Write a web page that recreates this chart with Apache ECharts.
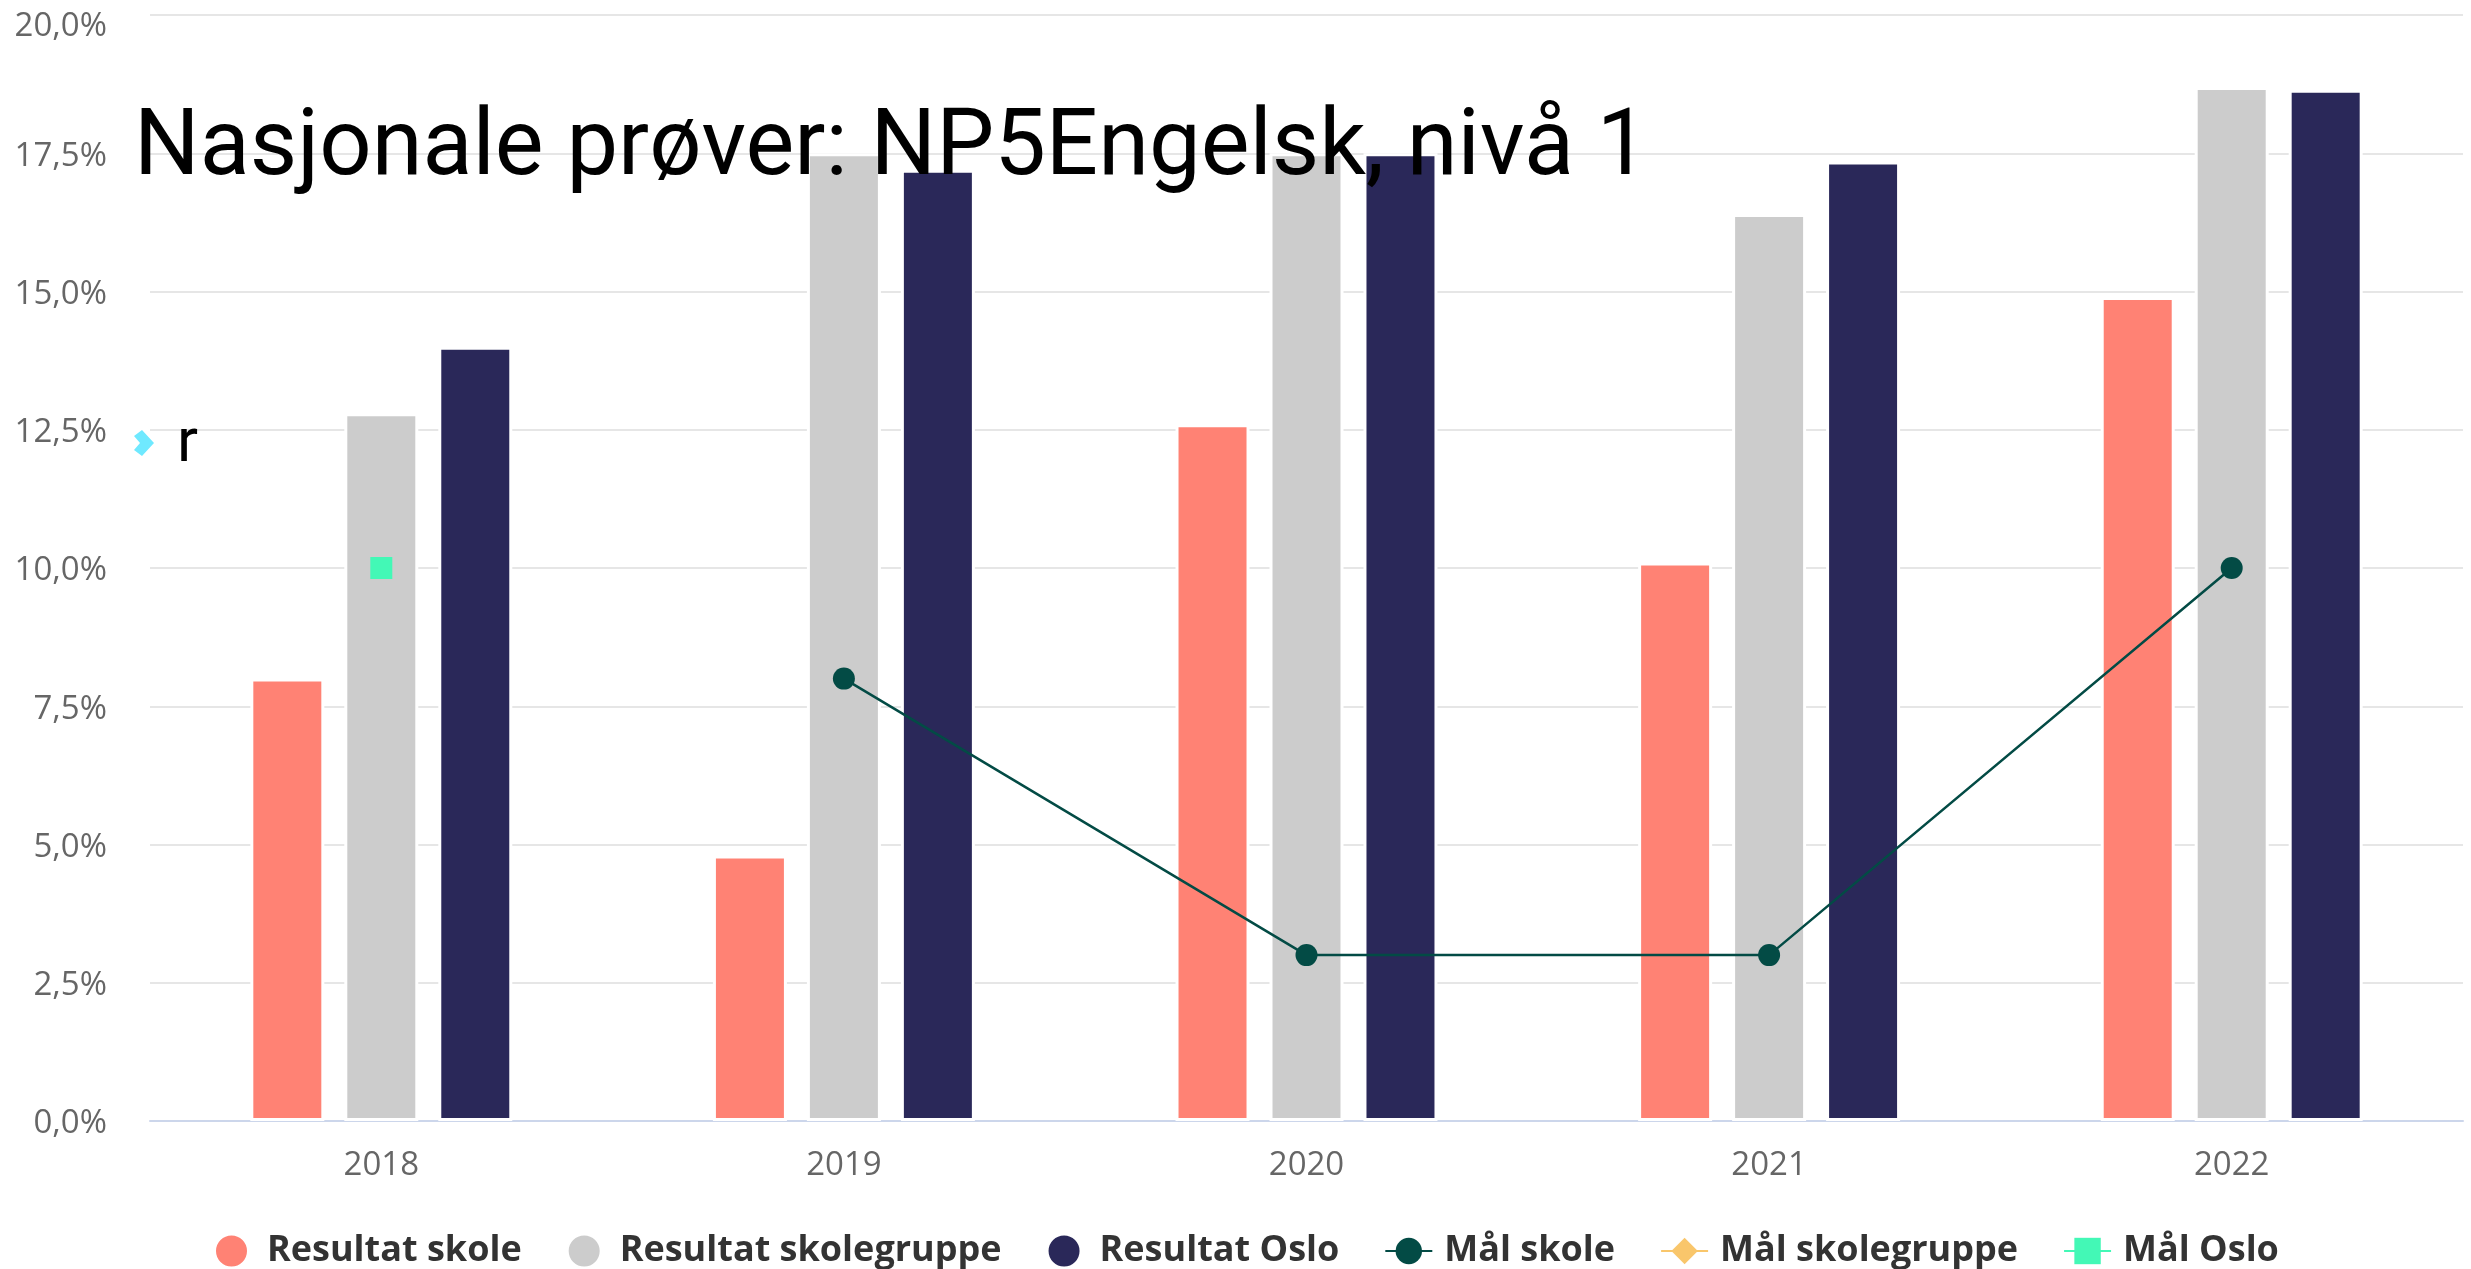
<!DOCTYPE html>
<html>
<head>
<meta charset="utf-8">
<title>Nasjonale prøver</title>
<script src="https://cdn.jsdelivr.net/npm/echarts@6/dist/echarts.min.js"></script>
<style>
    html, body { margin: 0; padding: 0; background: #fff; }
    #container { width: 2471px; height: 1269px; }
</style>
</head>
<body>
<div id="container"></div>
<script>
// data
var years = ['2018', '2019', '2020', '2021', '2022'];
var resultatSkole = [8.0, 4.8, 12.6, 10.1, 14.9];
var resultatSkolegruppe = [12.8, 17.5, 17.5, 16.4, 18.7];
var resultatOslo = [14.0, 17.2, 17.5, 17.35, 18.65];
var malSkole = [null, 8.0, 3.0, 3.0, 10.0];
var malSkolegruppe = [null, null, null, null, null];
var malOslo = [10.0, null, null, null, null];
var yTicks = [0, 2.5, 5, 7.5, 10, 12.5, 15, 17.5, 20];

var myChart = echarts.init(document.getElementById('container'));

// bar with white border like the original
function barSeries(name, data, color) {
    return {
        name: name,
        type: 'bar',
        data: data,
        barWidth: 74,
        barGap: '27%',
        itemStyle: { color: color, borderColor: '#fff', borderWidth: 3 }
    };
}

function lineSeries(name, data, color, symbol, size) {
    return {
        name: name,
        type: 'line',
        data: data,
        symbol: symbol,
        symbolSize: size,
        showSymbol: true,
        connectNulls: false,
        lineStyle: { color: color, width: 2.5 },
        itemStyle: { color: color }
    };
}

var option = {
    animation: false,
    backgroundColor: '#fff',
    title: {
        text: 'Nasjonale prøver: NP5Engelsk, nivå 1',
        left: 129,
        top: 100,
        textStyle: {
            fontFamily: 'Roboto',
            fontSize: 92,
            fontWeight: 'normal',
            color: '#000'
        }
    },
    grid: { left: 150, right: 8, top: 15, bottom: 148 },
    legend: {
        left: 209,
        top: 1228,
        itemWidth: 47,
        itemHeight: 33,
        itemGap: 45,
        textStyle: {
            fontFamily: 'Open Sans',
            fontSize: 36,
            fontWeight: 'bold',
            color: '#333',
            padding: [0, 0, 0, 7]
        },
        data: [
            { name: 'Resultat skole', icon: 'circle' },
            { name: 'Resultat skolegruppe', icon: 'circle' },
            { name: 'Resultat Oslo', icon: 'circle' },
            'Mål skole',
            'Mål skolegruppe',
            'Mål Oslo'
        ]
    },
    xAxis: {
        type: 'category',
        data: years,
        axisTick: { show: false },
        axisLine: { lineStyle: { color: '#ccd6eb', width: 2 } },
        axisLabel: {
            margin: 28,
            fontFamily: 'Open Sans',
            fontSize: 33,
            color: '#666'
        }
    },
    yAxis: {
        type: 'value',
        min: yTicks[0],
        max: yTicks[yTicks.length - 1],
        interval: yTicks[1] - yTicks[0],
        axisLine: { show: false },
        axisTick: { show: false },
        splitLine: { lineStyle: { color: '#e6e6e6', width: 2 } },
        axisLabel: {
            margin: 43,
            fontFamily: 'Open Sans',
            fontSize: 33,
            color: '#666',
            padding: [6, 0, 0, 0],
            formatter: function (v) {
                var s = v.toFixed(1).replace('.', ',') + '%';
                // top label sits lower, below its grid line
                return v === yTicks[yTicks.length - 1] ? '{top|' + s + '}' : s;
            },
            rich: {
                top: {
                    fontFamily: 'Open Sans',
                    fontSize: 33,
                    color: '#666',
                    padding: [18, 0, 0, 0]
                }
            }
        }
    },
    // leftover marker and letter seen on the original
    graphic: [
        {
            type: 'polygon',
            shape: { points: [[142, 430], [154, 443], [142, 456], [134, 450], [140, 443], [134, 436]] },
            style: { fill: '#6fe9ff' },
            z: 100
        },
        {
            type: 'text',
            x: 177,
            y: 476,
            style: {
                text: 'r',
                font: '62px Roboto',
                fill: '#000',
                textVerticalAlign: 'bottom'
            },
            z: 100
        }
    ],
    series: [
        barSeries('Resultat skole', resultatSkole, '#ff8274'),
        barSeries('Resultat skolegruppe', resultatSkolegruppe, '#cccccc'),
        barSeries('Resultat Oslo', resultatOslo, '#2a2859'),
        lineSeries('Mål skole', malSkole, '#034b45', 'circle', 22),
        lineSeries('Mål skolegruppe', malSkolegruppe, '#f9c66b', 'diamond', 22),
        lineSeries('Mål Oslo', malOslo, '#43f8b6', 'rect', 22)
    ]
};

myChart.setOption(option, true);
</script>
</body>
</html>
